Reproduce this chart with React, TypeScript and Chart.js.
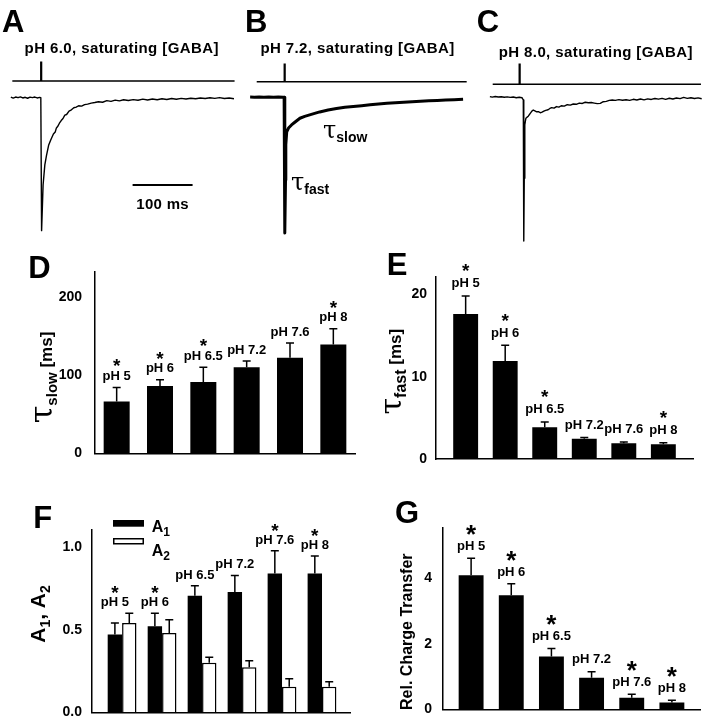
import React, { useEffect, useRef } from "react";
import { Chart, registerables } from "chart.js";

Chart.register(...registerables);

const SANS = '"Liberation Sans", Arial, Helvetica, sans-serif';
const SERIF = '"DejaVu Serif", "Liberation Serif", serif';

// ---------- Panel A-C traces (time in ms from GABA pulse, current normalised to peak of A) ----------
const TRACE_A_T = [-50, -46, -42, -38, -34, -30, -26, -22, -18, -14, -10, -6, -2, 0, 1.3, 3.8, 6.7, 9.5, 13, 16, 18, 21, 24, 26, 28, 31, 34, 37, 40, 43, 47, 51, 55, 59, 63, 68, 73, 78, 84, 90, 96, 103, 110, 117, 124, 131, 138, 146, 154, 162, 170, 178, 186, 194, 202, 210, 218, 226, 234, 242, 250, 258, 266, 274, 282, 290, 298, 306, 314, 322];
const TRACE_A_I = [0.004, -0.003, 0.005, 0.0, 0.006, -0.002, 0.003, -0.004, 0.004, 0.001, 0.005, -0.002, 0.002, 0.0, -0.99, -0.65, -0.5, -0.43, -0.355, -0.32, -0.3, -0.27, -0.255, -0.225, -0.215, -0.19, -0.17, -0.155, -0.13, -0.125, -0.1, -0.09, -0.075, -0.07, -0.06, -0.063, -0.052, -0.048, -0.04, -0.036, -0.03, -0.034, -0.022, -0.027, -0.018, -0.024, -0.015, -0.021, -0.014, -0.019, -0.011, -0.017, -0.01, -0.015, -0.008, -0.013, -0.006, -0.012, -0.005, -0.01, -0.004, -0.008, -0.002, -0.006, 0.0, -0.005, 0.001, -0.006, -0.002, -0.008];

const TRACE_B_T = [-57, -50, -42, -34, -26, -18, -10, -2, -0.3, 0.8, 2, 2.5, 4, 7, 12, 18, 26, 34, 45, 59, 73, 87, 101, 115, 129, 143, 157, 171, 185, 199, 213, 227, 241, 255, 269, 283, 298];
const TRACE_B_I = [0.005, 0.004, 0.006, 0.004, 0.005, 0.003, 0.005, 0.004, 0.004, -1.007, -0.613, -0.35, -0.255, -0.226, -0.203, -0.181, -0.153, -0.139, -0.124, -0.106, -0.092, -0.081, -0.071, -0.066, -0.06, -0.053, -0.047, -0.042, -0.037, -0.033, -0.03, -0.026, -0.022, -0.02, -0.017, -0.015, -0.012];

const TRACE_C_T = [-49, -45, -40, -35, -30, -25, -20, -15, -10, -5, 0, 4.5, 6.7, 7.5, 8.3, 8.9, 9.5, 11, 13, 15, 18, 21, 23.3, 26, 29, 32, 35, 38, 41, 44, 48, 51, 54, 58, 62, 66, 70, 75, 80, 85, 90, 95, 100, 105, 110, 115, 120, 125, 130, 135, 140, 145, 150, 155, 160, 166, 172, 178, 184, 190, 196, 202, 208, 214, 220, 226, 232, 238, 244, 250, 256, 262, 268, 274, 280, 286, 292, 298, 304];
const TRACE_C_I = [0.008, 0.004, 0.009, 0.005, 0.007, 0.003, 0.006, 0.002, 0.005, 0.0, 0.003, 0.0, -0.017, -1.067, -0.6, -0.35, -0.203, -0.153, -0.145, -0.138, -0.118, -0.1, -0.092, -0.098, -0.105, -0.104, -0.112, -0.108, -0.1, -0.094, -0.09, -0.08, -0.074, -0.078, -0.066, -0.07, -0.06, -0.063, -0.052, -0.055, -0.047, -0.049, -0.04, -0.043, -0.034, -0.038, -0.036, -0.04, -0.044, -0.042, -0.03, -0.027, -0.02, -0.017, -0.02, -0.014, -0.019, -0.015, -0.02, -0.012, -0.017, -0.01, -0.016, -0.009, -0.013, -0.006, -0.011, -0.005, -0.012, -0.004, -0.01, -0.002, -0.007, 0.002, -0.005, 0.0, -0.006, -0.001, -0.008];

// GABA application (piezo command) traces
const STIM_A_T = [-47.5, 0, 0, 1.2, 1.2, 323];
const STIM_A_V = [0.124, 0.124, 0.264, 0.264, 0.124, 0.124];
const STIM_B_T = [-46, 0, 0, 1.2, 1.2, 304];
const STIM_B_V = [0.119, 0.119, 0.25, 0.25, 0.119, 0.119];
const STIM_C_T = [-44.3, 0, 0, 1.2, 1.2, 302.8];
const STIM_C_V = [0.1, 0.1, 0.249, 0.249, 0.1, 0.1];

// 100 ms scale bar
const SCALE_BAR_T = [153, 253];
const SCALE_BAR_V = [-0.65, -0.65];

// ---------- Panels D-G ----------
const PH_LABELS = ["pH 5", "pH 6", "pH 6.5", "pH 7.2", "pH 7.6", "pH 8"];
const PH_INDEX = [0, 1, 2, 3, 4, 5];

const TAU_SLOW = [66, 86, 91, 110, 122, 139];
const TAU_SLOW_ERR = [18, 8, 19, 8, 19, 20];
const TAU_SLOW_SIG = [true, true, true, false, false, true];

const TAU_FAST = [17.6, 11.9, 3.85, 2.45, 1.9, 1.8];
const TAU_FAST_ERR = [2.2, 1.9, 0.65, 0.15, 0.17, 0.18];
const TAU_FAST_SIG = [true, true, true, false, false, true];

const AMP_A1 = [0.47, 0.52, 0.705, 0.728, 0.84, 0.84];
const AMP_A1_ERR = [0.07, 0.08, 0.06, 0.1, 0.137, 0.105];
const AMP_A2 = [0.54, 0.48, 0.3, 0.272, 0.155, 0.155];
const AMP_A2_ERR = [0.06, 0.08, 0.033, 0.04, 0.048, 0.03];
const AMP_SIG = [true, true, false, false, true, true];

const CHARGE = [4.09, 3.48, 1.61, 0.965, 0.355, 0.21];
const CHARGE_ERR = [0.52, 0.35, 0.25, 0.185, 0.105, 0.07];
const CHARGE_SIG = [true, true, true, false, true, true];

// ---------- helpers ----------
const zip = (t: number[], v: number[]) => t.map((x, i) => ({ x, y: v[i] }));

type Piece = { t: string; font: string; dy?: number };

function setSpacing(ctx: any, s: string) {
  try {
    ctx.letterSpacing = s;
  } catch (e) {
    /* ignore */
  }
}

function drawPieces(ctx: CanvasRenderingContext2D, pieces: Piece[], x: number, y: number, rotated: boolean, center: boolean) {
  ctx.save();
  ctx.translate(x, y);
  if (rotated) ctx.rotate(-Math.PI / 2);
  ctx.textAlign = "left";
  ctx.textBaseline = "alphabetic";
  ctx.fillStyle = "#000";
  let total = 0;
  const widths = pieces.map((p) => {
    ctx.font = p.font;
    const w = ctx.measureText(p.t).width;
    total += w;
    return w;
  });
  let cx = center ? -total / 2 : 0;
  pieces.forEach((p, i) => {
    ctx.font = p.font;
    ctx.fillText(p.t, cx, p.dy || 0);
    cx += widths[i];
  });
  ctx.restore();
}

function drawStar(ctx: CanvasRenderingContext2D, x: number, cy: number, size: number) {
  ctx.font = `bold ${size}px ${SANS}`;
  ctx.textAlign = "center";
  ctx.textBaseline = "alphabetic";
  ctx.fillText("*", x, cy + 0.575 * size);
}

function drawLetter(ctx: CanvasRenderingContext2D, letter: string, x: number, y: number) {
  ctx.save();
  ctx.fillStyle = "#000";
  ctx.font = `bold 31px ${SANS}`;
  ctx.textAlign = "left";
  ctx.textBaseline = "alphabetic";
  ctx.fillText(letter, x, y);
  ctx.restore();
}

type TraceOpts = {
  t: number[];
  i: number[];
  lw: number;
  st: number[];
  sv: number[];
  bt?: number[];
  bv?: number[];
  padL: number;
  padR: number;
  xmin: number;
  xmax: number;
  letter: string;
  letterX: number;
  letterY: number;
  title: string;
  titleX: number;
  titleY: number;
  extra?: (chart: any, ctx: CanvasRenderingContext2D) => void;
};

function makeTrace(canvas: HTMLCanvasElement, o: TraceOpts) {
  const overlay = {
    id: "traceOverlay",
    afterDraw(chart: any) {
      const ctx = chart.ctx as CanvasRenderingContext2D;
      drawLetter(ctx, o.letter, o.letterX, o.letterY);
      ctx.save();
      ctx.fillStyle = "#000";
      ctx.font = `bold 15px ${SANS}`;
      setSpacing(ctx, "0.4px");
      ctx.textAlign = "center";
      ctx.textBaseline = "alphabetic";
      ctx.fillText(o.title, o.titleX, o.titleY);
      setSpacing(ctx, "0px");
      ctx.restore();
      if (o.extra) o.extra(chart, ctx);
    },
  };
  const datasets: any[] = [
    { data: zip(o.t, o.i), borderColor: "#000", borderWidth: o.lw, pointRadius: 0, tension: 0, clip: false, borderJoinStyle: "round" },
    { data: zip(o.st, o.sv), borderColor: "#000", borderWidth: 1.5, pointRadius: 0, tension: 0, clip: false },
  ];
  if (o.bt && o.bv) {
    datasets.push({ data: zip(o.bt, o.bv), borderColor: "#000", borderWidth: 2.2, pointRadius: 0, tension: 0, clip: false });
  }
  return new Chart(canvas, {
    type: "line",
    data: { datasets },
    options: {
      responsive: false,
      animation: false,
      events: [],
      devicePixelRatio: 1,
      layout: { padding: { left: o.padL, right: o.padR, top: 55, bottom: 5 } },
      scales: {
        x: { type: "linear", display: false, min: o.xmin, max: o.xmax },
        y: { type: "linear", display: false, min: -1.097, max: 0.318 },
      },
      plugins: { legend: { display: false }, tooltip: { enabled: false } },
    } as any,
    plugins: [overlay],
  });
}

type BarSeries = { values: number[]; errors: number[]; fill: string; border: number };

type BarOpts = {
  series: BarSeries[];
  sig: boolean[];
  xmin: number;
  xmax: number;
  ymax: number;
  step: number;
  fmt?: (v: number) => string;
  yW: number;
  tickPad: number;
  pad: { left: number; right: number; top: number; bottom: number };
  barPct: number;
  catPct: number;
  labelOff: number;
  starOff: number;
  starSize: number;
  letter: string;
  letterX: number;
  letterY: number;
  axisPieces: Piece[];
  axisX: number;
  axisY: number;
  extra?: (chart: any, ctx: CanvasRenderingContext2D) => void;
};

function makeBars(canvas: HTMLCanvasElement, o: BarOpts) {
  const overlay = {
    id: "barOverlay",
    afterDatasetsDraw(chart: any) {
      const ctx = chart.ctx as CanvasRenderingContext2D;
      const ys = chart.scales.y;
      ctx.save();
      ctx.strokeStyle = "#000";
      ctx.fillStyle = "#000";
      ctx.lineWidth = 1.5;
      const tops: number[] = PH_INDEX.map(() => Infinity);
      o.series.forEach((s, d) => {
        const meta = chart.getDatasetMeta(d);
        meta.data.forEach((bar: any, i: number) => {
          const top = ys.getPixelForValue(s.values[i] + s.errors[i]);
          tops[i] = Math.min(tops[i], top);
          ctx.beginPath();
          ctx.moveTo(bar.x, bar.y);
          ctx.lineTo(bar.x, top);
          ctx.moveTo(bar.x - 4, top);
          ctx.lineTo(bar.x + 4, top);
          ctx.stroke();
        });
      });
      const meta0 = chart.getDatasetMeta(0);
      PH_LABELS.forEach((lab, i) => {
        const x = meta0.data[i].x;
        const cy = tops[i] - o.labelOff;
        ctx.font = `bold 13px ${SANS}`;
        ctx.textAlign = "center";
        ctx.textBaseline = "alphabetic";
        ctx.fillText(lab, x, cy + 4.7);
        if (o.sig[i]) drawStar(ctx, x, cy - o.starOff, o.starSize);
      });
      ctx.restore();
    },
    afterDraw(chart: any) {
      const ctx = chart.ctx as CanvasRenderingContext2D;
      drawLetter(ctx, o.letter, o.letterX, o.letterY);
      drawPieces(ctx, o.axisPieces, o.axisX, o.axisY, true, true);
      if (o.extra) o.extra(chart, ctx);
    },
  };
  const datasets = o.series.map((s) => ({
    data: PH_INDEX.map((x, i) => ({ x, y: s.values[i] })),
    backgroundColor: s.fill,
    borderColor: "#000",
    borderWidth: s.border,
    borderSkipped: "start",
    barPercentage: o.barPct,
    categoryPercentage: o.catPct,
  }));
  return new Chart(canvas, {
    type: "bar",
    data: { datasets },
    options: {
      responsive: false,
      animation: false,
      events: [],
      devicePixelRatio: 1,
      layout: { padding: o.pad },
      scales: {
        x: {
          type: "linear",
          min: o.xmin,
          max: o.xmax,
          offset: false,
          ticks: { display: false },
          grid: { display: false, drawTicks: false, offset: false },
          border: { display: true, color: "#000", width: 1.5 },
          afterFit: (s: any) => {
            s.height = 0;
            s.paddingLeft = 0;
            s.paddingRight = 0;
          },
        },
        y: {
          type: "linear",
          min: 0,
          max: o.ymax,
          ticks: {
            stepSize: o.step,
            includeBounds: false,
            color: "#000",
            padding: o.tickPad,
            font: { family: SANS, size: 14, weight: "bold" },
            callback: (v: any) => (o.fmt ? o.fmt(Number(v)) : String(v)),
          },
          grid: { display: false, drawTicks: false },
          border: { display: true, color: "#000", width: 1.5 },
          afterFit: (s: any) => {
            s.width = o.yW;
            s.paddingTop = 0;
            s.paddingBottom = 0;
          },
        },
      },
      plugins: { legend: { display: false }, tooltip: { enabled: false } },
    } as any,
    plugins: [overlay],
  });
}

const BOXES = {
  A: { left: 0, top: 0, w: 236, h: 250 },
  B: { left: 236, top: 0, w: 234, h: 250 },
  C: { left: 470, top: 0, w: 234, h: 250 },
  D: { left: 0, top: 250, w: 360, h: 215 },
  E: { left: 360, top: 250, w: 344, h: 215 },
  F: { left: 0, top: 470, w: 360, h: 250 },
  G: { left: 360, top: 470, w: 344, h: 250 },
};

export default function App() {
  const refA = useRef<HTMLCanvasElement>(null);
  const refB = useRef<HTMLCanvasElement>(null);
  const refC = useRef<HTMLCanvasElement>(null);
  const refD = useRef<HTMLCanvasElement>(null);
  const refE = useRef<HTMLCanvasElement>(null);
  const refF = useRef<HTMLCanvasElement>(null);
  const refG = useRef<HTMLCanvasElement>(null);

  useEffect(() => {
    const charts: Chart[] = [];

    charts.push(
      makeTrace(refA.current!, {
        t: TRACE_A_T, i: TRACE_A_I, lw: 1.4, st: STIM_A_T, sv: STIM_A_V, bt: SCALE_BAR_T, bv: SCALE_BAR_V,
        padL: 5, padR: 1, xmin: -59.7, xmax: 323.7,
        letter: "A", letterX: 2, letterY: 31.7,
        title: "pH 6.0, saturating [GABA]", titleX: 121.7, titleY: 53.3,
        extra: (chart, ctx) => {
          const xs = chart.scales.x;
          const ys = chart.scales.y;
          const cx = (xs.getPixelForValue(SCALE_BAR_T[0]) + xs.getPixelForValue(SCALE_BAR_T[1])) / 2;
          const by = ys.getPixelForValue(SCALE_BAR_V[0]);
          ctx.save();
          ctx.fillStyle = "#000";
          ctx.font = `bold 15px ${SANS}`;
          setSpacing(ctx, "0.3px");
          ctx.textAlign = "center";
          ctx.textBaseline = "alphabetic";
          ctx.fillText("100 ms", cx, by + 24.5);
          setSpacing(ctx, "0px");
          ctx.restore();
        },
      })
    );

    charts.push(
      makeTrace(refB.current!, {
        t: TRACE_B_T, i: TRACE_B_I, lw: 3, st: STIM_B_T, sv: STIM_B_V,
        padL: 5, padR: 2, xmin: -72.2, xmax: 306.2,
        letter: "B", letterX: 9, letterY: 31.7,
        title: "pH 7.2, saturating [GABA]", titleX: 121.5, titleY: 53.3,
        extra: (chart, ctx) => {
          const xs = chart.scales.x;
          const ys = chart.scales.y;
          drawPieces(ctx, [
            { t: "τ", font: `24px ${SERIF}` },
            { t: "slow", font: `bold 14px ${SANS}`, dy: 4 },
          ], xs.getPixelForValue(64.5), ys.getPixelForValue(-0.3), false, false);
          drawPieces(ctx, [
            { t: "τ", font: `24px ${SERIF}` },
            { t: "fast", font: `bold 14px ${SANS}`, dy: 4 },
          ], xs.getPixelForValue(11.2), ys.getPixelForValue(-0.688), false, false);
        },
      })
    );

    charts.push(
      makeTrace(refC.current!, {
        t: TRACE_C_T, i: TRACE_C_I, lw: 1.4, st: STIM_C_T, sv: STIM_C_V,
        padL: 5, padR: 1, xmin: -73.8, xmax: 306.2,
        letter: "C", letterX: 6.7, letterY: 32,
        title: "pH 8.0, saturating [GABA]", titleX: 125.8, titleY: 57.3,
      })
    );

    charts.push(
      makeBars(refD.current!, {
        series: [{ values: TAU_SLOW, errors: TAU_SLOW_ERR, fill: "#000", border: 0 }],
        sig: TAU_SLOW_SIG,
        xmin: -0.5, xmax: 5.5, ymax: 231.5, step: 100,
        yW: 40, tickPad: 13,
        pad: { left: 55, right: 5, top: 22, bottom: 11.7 },
        barPct: 0.6, catPct: 1,
        labelOff: 12, starOff: 14, starSize: 19,
        letter: "D", letterX: 28.3, letterY: 28.3,
        axisPieces: [
          { t: "τ", font: `32px ${SERIF}` },
          { t: "slow", font: `bold 15px ${SANS}`, dy: 5 },
          { t: " [ms]", font: `bold 17px ${SANS}` },
        ],
        axisX: 52, axisY: 127.5,
      })
    );

    charts.push(
      makeBars(refE.current!, {
        series: [{ values: TAU_FAST, errors: TAU_FAST_ERR, fill: "#000", border: 0 }],
        sig: TAU_FAST_SIG,
        xmin: -0.75, xmax: 5.75, ymax: 22.14, step: 10,
        yW: 30, tickPad: 9,
        pad: { left: 46, right: 11, top: 26.7, bottom: 6 },
        barPct: 0.63, catPct: 1,
        labelOff: 13.5, starOff: 16, starSize: 19,
        letter: "E", letterX: 26.7, letterY: 25,
        axisPieces: [
          { t: "τ", font: `30px ${SERIF}` },
          { t: "fast", font: `bold 16px ${SANS}`, dy: 5 },
          { t: " [ms]", font: `bold 17px ${SANS}` },
        ],
        axisX: 41, axisY: 121.7,
      })
    );

    charts.push(
      makeBars(refF.current!, {
        series: [
          { values: AMP_A1, errors: AMP_A1_ERR, fill: "#000", border: 0 },
          { values: AMP_A2, errors: AMP_A2_ERR, fill: "#fff", border: 1.5 },
        ],
        sig: AMP_SIG,
        xmin: -0.76, xmax: 5.7, ymax: 1.103, step: 0.5,
        fmt: (v) => v.toFixed(1),
        yW: 40, tickPad: 9.7,
        pad: { left: 51.7, right: 10, top: 60, bottom: 7.7 },
        barPct: 1, catPct: 0.72,
        labelOff: 12, starOff: 13, starSize: 19,
        letter: "F", letterX: 33.3, letterY: 58.3,
        axisPieces: [
          { t: "A", font: `bold 21px ${SANS}` },
          { t: "1", font: `bold 14px ${SANS}`, dy: 5 },
          { t: ", ", font: `bold 21px ${SANS}` },
          { t: "A", font: `bold 21px ${SANS}` },
          { t: "2", font: `bold 14px ${SANS}`, dy: 5 },
        ],
        axisX: 45, axisY: 144,
        extra: (chart, ctx) => {
          ctx.save();
          ctx.fillStyle = "#000";
          ctx.fillRect(113, 50, 31, 6.7);
          ctx.strokeStyle = "#000";
          ctx.lineWidth = 1.5;
          ctx.fillStyle = "#fff";
          ctx.fillRect(113.75, 68.75, 29.5, 5);
          ctx.strokeRect(113.75, 68.75, 29.5, 5);
          ctx.restore();
          drawPieces(ctx, [
            { t: "A", font: `bold 16px ${SANS}` },
            { t: "1", font: `bold 12px ${SANS}`, dy: 4 },
          ], 151.7, 61.7, false, false);
          drawPieces(ctx, [
            { t: "A", font: `bold 16px ${SANS}` },
            { t: "2", font: `bold 12px ${SANS}`, dy: 4 },
          ], 151.7, 86, false, false);
        },
      })
    );

    charts.push(
      makeBars(refG.current!, {
        series: [{ values: CHARGE, errors: CHARGE_ERR, fill: "#000", border: 0 }],
        sig: CHARGE_SIG,
        xmin: -0.7, xmax: 5.7, ymax: 5.536, step: 2,
        yW: 30, tickPad: 11,
        pad: { left: 53, right: 4, top: 58, bottom: 10.7 },
        barPct: 0.62, catPct: 1,
        labelOff: 13, starOff: 17, starSize: 26,
        letter: "G", letterX: 35, letterY: 53,
        axisPieces: [{ t: "Rel. Charge Transfer", font: `bold 16px ${SANS}` }],
        axisX: 51.5, axisY: 161.7,
      })
    );

    return () => {
      charts.forEach((c) => c.destroy());
    };
  }, []);

  const canvasStyle = (b: { left: number; top: number; w: number; h: number }): React.CSSProperties => ({
    position: "absolute",
    left: b.left,
    top: b.top,
    width: b.w,
    height: b.h,
    display: "block",
  });

  return (
    <div style={{ position: "absolute", left: 0, top: 0, width: 704, height: 720, background: "#fff", overflow: "hidden" }}>
      <canvas ref={refA} width={BOXES.A.w} height={BOXES.A.h} style={canvasStyle(BOXES.A)} />
      <canvas ref={refB} width={BOXES.B.w} height={BOXES.B.h} style={canvasStyle(BOXES.B)} />
      <canvas ref={refC} width={BOXES.C.w} height={BOXES.C.h} style={canvasStyle(BOXES.C)} />
      <canvas ref={refD} width={BOXES.D.w} height={BOXES.D.h} style={canvasStyle(BOXES.D)} />
      <canvas ref={refE} width={BOXES.E.w} height={BOXES.E.h} style={canvasStyle(BOXES.E)} />
      <canvas ref={refF} width={BOXES.F.w} height={BOXES.F.h} style={canvasStyle(BOXES.F)} />
      <canvas ref={refG} width={BOXES.G.w} height={BOXES.G.h} style={canvasStyle(BOXES.G)} />
    </div>
  );
}
